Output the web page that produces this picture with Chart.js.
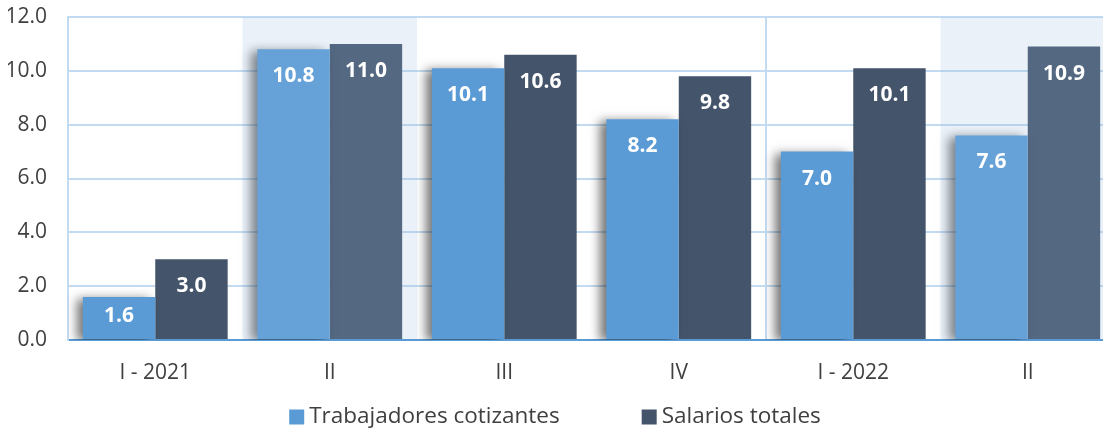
<!DOCTYPE html>
<html>
<head>
<meta charset="utf-8">
<script src="https://cdn.jsdelivr.net/npm/chart.js@4"></script>
<style>
  html, body { margin: 0; padding: 0; background: #fff; overflow: hidden; }
  #wrap { width: 1116px; height: 431px; }
</style>
</head>
<body>
<div id="wrap"><canvas id="chart"></canvas></div>
<script>
const categories = ['I - 2021', 'II', 'III', 'IV', 'I - 2022', 'II'];
const trabajadores = [1.6, 10.8, 10.1, 8.2, 7.0, 7.6];
const salarios = [3.0, 11.0, 10.6, 9.8, 10.1, 10.9];
const seriesNames = ['Trabajadores cotizantes', 'Salarios totales'];
const seriesColors = ['#5b9bd5', '#44546a'];
const shadedCategories = [1, 5];
const yearBreaks = [0, 4];

const FONT = "'Open Sans', 'Noto Sans', sans-serif";
const TEXT = '#404040';
const GRID = '#c3dbf0';

// shadow on the light bars, shading over the "II" quarters, labels, legend
const decorations = {
    id: 'decorations',
    beforeDatasetDraw(chart, args) {
        if (args.index !== 0) return;
        const ctx = chart.ctx;
        ctx.save();
        ctx.shadowColor = 'rgba(0,0,0,0.55)';
        ctx.shadowBlur = 10;
        ctx.shadowOffsetX = -6;
        ctx.shadowOffsetY = 2;
    },
    afterDatasetDraw(chart, args) {
        if (args.index === 0) chart.ctx.restore();
    },
    afterDatasetsDraw(chart) {
        const ctx = chart.ctx;
        const area = chart.chartArea;
        const x = chart.scales.x;
        const half = (x.getPixelForValue(1) - x.getPixelForValue(0)) / 2;
        ctx.save();
        ctx.fillStyle = 'rgba(150,185,225,0.2)';
        shadedCategories.forEach(i => {
            const c = x.getPixelForValue(i);
            ctx.fillRect(c - half, area.top, half * 2, area.bottom - area.top - 1);
        });

        // value labels
        ctx.font = "bold 21px " + FONT;
        ctx.fillStyle = '#ffffff';
        ctx.textAlign = 'center';
        ctx.textBaseline = 'middle';
        chart.data.datasets.forEach((ds, di) => {
            chart.getDatasetMeta(di).data.forEach((bar, i) => {
                const top = bar.y, bottom = bar.base;
                const y = Math.min(top + 27, (top + bottom) / 2 - 2);
                ctx.fillText(ds.data[i].toFixed(1), bar.x, y);
            });
        });

        // legend
        ctx.font = "22.5px " + FONT;
        ctx.textAlign = 'left';
        const box = 15, gapText = 5, gapItem = 82;
        const widths = seriesNames.map(n => ctx.measureText(n).width);
        let total = widths.reduce((a, b) => a + b, 0) + 2 * (box + gapText) + gapItem;
        let lx = 555 - total / 2;
        const ly = 417;
        seriesNames.forEach((n, i) => {
            ctx.fillStyle = seriesColors[i];
            ctx.fillRect(lx, ly - box / 2, box, box);
            ctx.fillStyle = TEXT;
            ctx.fillText(n, lx + box + gapText, ly);
            lx += box + gapText + widths[i] + gapItem;
        });
        ctx.restore();
    }
};

new Chart(document.getElementById('chart'), {
    type: 'bar',
    data: {
        labels: categories,
        datasets: [
            { label: seriesNames[0], data: trabajadores, backgroundColor: seriesColors[0] },
            { label: seriesNames[1], data: salarios, backgroundColor: seriesColors[1] }
        ]
    },
    options: {
        responsive: true,
        maintainAspectRatio: false,
        animation: false,
        categoryPercentage: 0.83,
        barPercentage: 1.0,
        layout: { padding: { left: 8, right: 1, top: 17, bottom: 46 } },
        plugins: {
            legend: { display: false },
            tooltip: { enabled: false }
        },
        scales: {
            x: {
                offset: true,
                afterFit: s => { s.height = 45; s.paddingLeft = 0; s.paddingRight = 0; },
                grid: {
                    offset: true,
                    drawTicks: false,
                    lineWidth: 2,
                    color: ctx => yearBreaks.includes(ctx.index) ? GRID : 'rgba(0,0,0,0)'
                },
                border: { color: '#5b9bd5', width: 2 },
                ticks: { color: TEXT, font: { family: FONT, size: 21 }, padding: 20 }
            },
            y: {
                min: 0,
                max: 12,
                afterFit: s => { s.width = 60; s.paddingTop = 0; s.paddingBottom = 0; },
                ticks: {
                    stepSize: 2,
                    color: TEXT,
                    font: { family: FONT, size: 21 },
                    padding: 21,
                    callback: v => v.toFixed(1)
                },
                grid: { color: GRID, lineWidth: 2, drawTicks: false },
                border: { color: GRID, width: 2 }
            }
        }
    },
    plugins: [decorations]
});
</script>
</body>
</html>
